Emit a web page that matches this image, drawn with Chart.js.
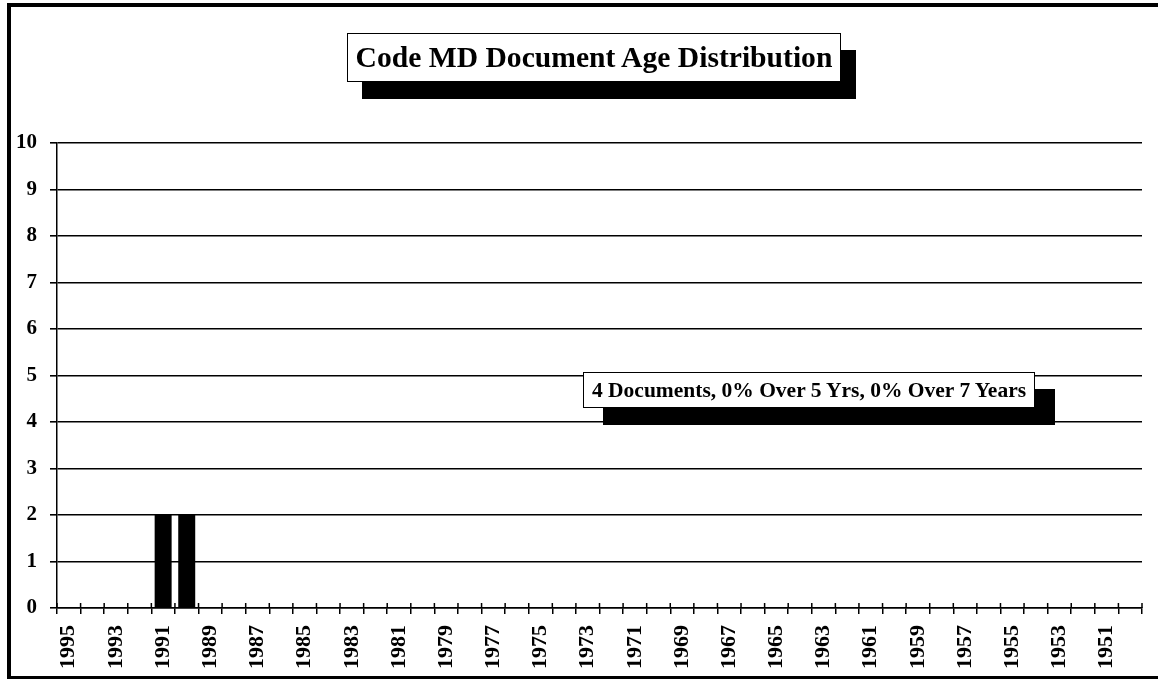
<!DOCTYPE html>
<html>
<head>
<meta charset="utf-8">
<script src="https://cdn.jsdelivr.net/npm/chart.js@4.4.0/dist/chart.umd.min.js"></script>
<style>
    body { margin: 0; background: #fff; }
    #wrap { position: relative; width: 1158px; height: 681px; overflow: hidden; background: #fff; }
    #frame { position: absolute; left: 7px; top: 3px; width: 1160px; height: 676px; box-sizing: border-box; border: 4px solid #000; border-bottom-width: 3px; border-right: none; }
    #chartBox { position: absolute; left: 0; top: 0; width: 1158px; height: 681px; }
    .tag { position: absolute; background: #fff; border: 1px solid #000; color: #000;
           font-family: "Liberation Serif", "Times New Roman", serif; font-weight: bold;
           white-space: nowrap; box-sizing: border-box; text-align: center; }
    #title { left: 347px; top: 33px; width: 494px; height: 49px; line-height: 47px; font-size: 29.6px; box-shadow: 15px 17px 0 #000; }
    #note { left: 583px; top: 372px; width: 452px; height: 36px; line-height: 34px; font-size: 21.5px; box-shadow: 20px 17px 0 #000; }
</style>
</head>
<body>
<div id="wrap">
    <div id="chartBox"><canvas id="myChart" width="1158" height="681"></canvas></div>
    <div id="frame"></div>
    <div class="tag" id="title">Code MD Document Age Distribution</div>
    <div class="tag" id="note">4 Documents, 0% Over 5 Yrs, 0% Over 7 Years</div>
</div>
<script>
var years = ["1995", "1994", "1993", "1992", "1991", "1990", "1989", "1988", "1987", "1986",
             "1985", "1984", "1983", "1982", "1981", "1980", "1979", "1978", "1977", "1976",
             "1975", "1974", "1973", "1972", "1971", "1970", "1969", "1968", "1967", "1966",
             "1965", "1964", "1963", "1962", "1961", "1960", "1959", "1958", "1957", "1956",
             "1955", "1954", "1953", "1952", "1951", "1950"];
var docCounts = [0, 0, 0, 0, 2, 2, 0, 0, 0, 0,
                 0, 0, 0, 0, 0, 0, 0, 0, 0, 0,
                 0, 0, 0, 0, 0, 0, 0, 0, 0, 0,
                 0, 0, 0, 0, 0, 0, 0, 0, 0, 0,
                 0, 0, 0, 0, 0, 0];
var yTicks = [0, 1, 2, 3, 4, 5, 6, 7, 8, 9, 10];

var serif = '"Liberation Serif", "Times New Roman", serif';

// ticks on the x axis cross the line, chart.js only draws the lower half
var crossTicks = {
    id: 'crossTicks',
    afterDatasetsDraw: function (chart) {
        var xs = chart.scales.x;
        var ctx = chart.ctx;
        var half = (xs.getPixelForValue(1) - xs.getPixelForValue(0)) / 2;
        ctx.save();
        ctx.strokeStyle = '#000';
        ctx.lineWidth = 1.5;
        ctx.beginPath();
        for (var i = 0; i <= years.length; i++) {
            var px = xs.getPixelForValue(i) - half;
            ctx.moveTo(px, xs.top - 5);
            ctx.lineTo(px, xs.top);
        }
        ctx.stroke();
        ctx.restore();
    }
};

var ctx = document.getElementById('myChart');
var myChart = new Chart(ctx, {
    type: 'bar',
    data: {
        labels: years,
        datasets: [{
            label: 'Documents',
            data: docCounts,
            backgroundColor: '#000',
            borderWidth: 0,
            barPercentage: 0.72,
            categoryPercentage: 1
        }]
    },
    options: {
        responsive: false,
        animation: false,
        events: [],
        layout: { padding: { top: 143, right: 16, left: 0, bottom: 0 } },
        plugins: {
            legend: { display: false },
            tooltip: { enabled: false },
            title: { display: false }
        },
        scales: {
            x: {
                offset: true,
                grid: { display: true, drawOnChartArea: false, drawTicks: true, tickLength: 6, color: '#000', lineWidth: 1.5 },
                border: { display: true, color: '#000', width: 1.5 },
                ticks: {
                    autoSkip: false,
                    maxRotation: 90,
                    minRotation: 90,
                    padding: 11,
                    color: '#000',
                    font: { family: serif, size: 22, weight: 'bold' },
                    callback: function (val, index) {
                        return index % 2 === 0 ? years[index] : '';
                    }
                },
                afterFit: function (scale) {
                    scale.height = 73;
                    scale.paddingLeft = 0;
                    scale.paddingRight = 0;
                }
            },
            y: {
                min: 0,
                max: 10,
                afterBuildTicks: function (scale) {
                    scale.ticks = yTicks.map(function (v) { return { value: v }; });
                },
                grid: { color: '#000', lineWidth: 1.6, tickLength: 7 },
                border: { display: true, color: '#000', width: 1.5 },
                ticks: {
                    padding: 13,
                    color: '#000',
                    font: { family: serif, size: 21, weight: 'bold' }
                },
                afterFit: function (scale) { scale.width = 57; }
            }
        }
    },
    plugins: [crossTicks]
});
</script>
</body>
</html>
